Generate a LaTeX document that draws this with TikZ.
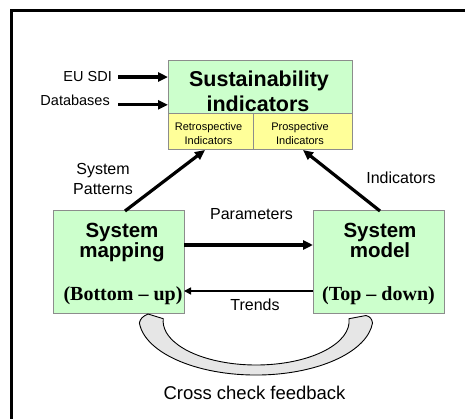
\documentclass[tikz,border=0pt]{standalone}
\usepackage{fontspec}
\setmainfont{Liberation Sans}
\newfontfamily\serifbf{Liberation Serif}
\usetikzlibrary{arrows.meta,calc}
\definecolor{boxgreen}{HTML}{CCFFCC}
\definecolor{boxyellow}{HTML}{FFFF99}
\definecolor{boxline}{HTML}{8C8C8C}
\definecolor{bandfill}{HTML}{E6E6E6}
\begin{document}
\begin{tikzpicture}[x=1pt,y=-1pt,
  box/.style={draw=boxline, line width=1pt, inner sep=0pt, outer sep=0pt},
  gbox/.style={box, fill=boxgreen},
  ybox/.style={box, fill=boxyellow},
  lbl/.style={inner sep=0pt, font=\fontsize{16}{18}\selectfont},
  srclbl/.style={inner sep=0pt, font=\fontsize{14.5}{16}\selectfont},
  bigtxt/.style={inner sep=0pt, font=\bfseries\fontsize{21.5}{24}\selectfont},
  boxtxt/.style={inner sep=0pt, font=\bfseries\fontsize{20.5}{22}\selectfont},
  smalltxt/.style={inner sep=0pt, font=\fontsize{11}{13}\selectfont},
  dirtxt/.style={inner sep=0pt, font=\serifbf\bfseries\fontsize{20}{22}\selectfont},
  bigarrow/.style={line width=3.2pt, -{Triangle[length=10pt,width=9pt]}},
  thinarrow/.style={line width=1.6pt, -{Triangle[length=7pt,width=7pt]}},
  band/.style={draw=black, line width=0.9pt, fill=bandfill}
]
\useasboundingbox (0,0) rectangle (465,419);
% frame (top and left edges)
\draw[line width=3pt] (465,10.5) -- (11.5,10.5) -- (11.5,419);

% boxes
\node[gbox, minimum width=184pt, minimum height=53pt] (sust) at (260,87.5) {};
\node[ybox, minimum width=85pt, minimum height=36pt] (retro) at (210.5,132) {};
\node[ybox, minimum width=99pt, minimum height=36pt] (prosp) at (302.5,132) {};
\node[gbox, minimum width=131pt, minimum height=102pt] (map) at (118.5,262) {};
\node[gbox, minimum width=131pt, minimum height=102pt] (model) at (378.5,262) {};

% box texts
\node[bigtxt, anchor=base] (t1) at (259,87) {Sustainability};
\node[bigtxt, anchor=base] (t2) at (258,111.5) {indicators};
\node[smalltxt, anchor=base] (r1) at (208.5,131) {Retrospective};
\node[smalltxt, anchor=base] (r2) at (208.5,145) {Indicators};
\node[smalltxt, anchor=base] (p1) at (300,131) {Prospective};
\node[smalltxt, anchor=base] (p2) at (300,145) {Indicators};
\node[boxtxt, anchor=base] (m1) at (122,238) {System};
\node[boxtxt, anchor=base] (m2) at (122,257.5) {mapping};
\node[dirtxt, anchor=base] (m3) at (123,300) {(Bottom – up)};
\node[boxtxt, anchor=base] (s1) at (380,238) {System};
\node[boxtxt, anchor=base] (s2) at (380,257.5) {model};
\node[dirtxt, anchor=base] (s3) at (378.5,300) {(Top – down)};

% source labels and arrows
\node[srclbl, anchor=base east] (eu) at (112,82) {EU SDI};
\node[srclbl, anchor=base east] (db) at (110,106) {Databases};
\draw[bigarrow] ($(eu.east)+(6,0)$) -- (eu.east -| sust.west);
\draw[bigarrow] ($(db.east)+(8,4)$) -- ($(db.east -| sust.west)+(0,4)$);

% connectors
\draw[bigarrow] ([xshift=6.5pt]map.north) -- ([xshift=-5.5pt]retro.south);
\draw[bigarrow] ([xshift=1.5pt]model.north) -- ([xshift=0.5pt]prosp.south);
\draw[bigarrow] ([yshift=17pt]map.east) -- ([yshift=17pt]model.west);
\draw[thinarrow] ([yshift=-29pt]model.west) -- ([yshift=-29pt]map.east);

% connector labels
\node[lbl, anchor=base] (sp1) at (103,175) {System};
\node[lbl, anchor=base] (sp2) at (103,195) {Patterns};
\node[lbl, anchor=base] (ind) at (401,184) {Indicators};
\node[lbl, anchor=base] (par) at (251.5,220) {Parameters};
\node[lbl, anchor=base] (tr) at (255,310.5) {Trends};

% cross check band
\draw[band] (148,314) .. controls (143,316) and (140,319) .. (139.4,323)
  arc[start angle=175, end angle=5, x radius=117, y radius=57]
  .. controls (372,319) and (370,316.5) .. (366,315.5)
  -- (349,318.7)
  arc[start angle=-3, end angle=183, x radius=93, y radius=44]
  -- cycle;
\node[inner sep=0pt, font=\fontsize{18.5}{20}\selectfont, anchor=base] (cc) at (254.5,399) {Cross check feedback};
\end{tikzpicture}
\end{document}
